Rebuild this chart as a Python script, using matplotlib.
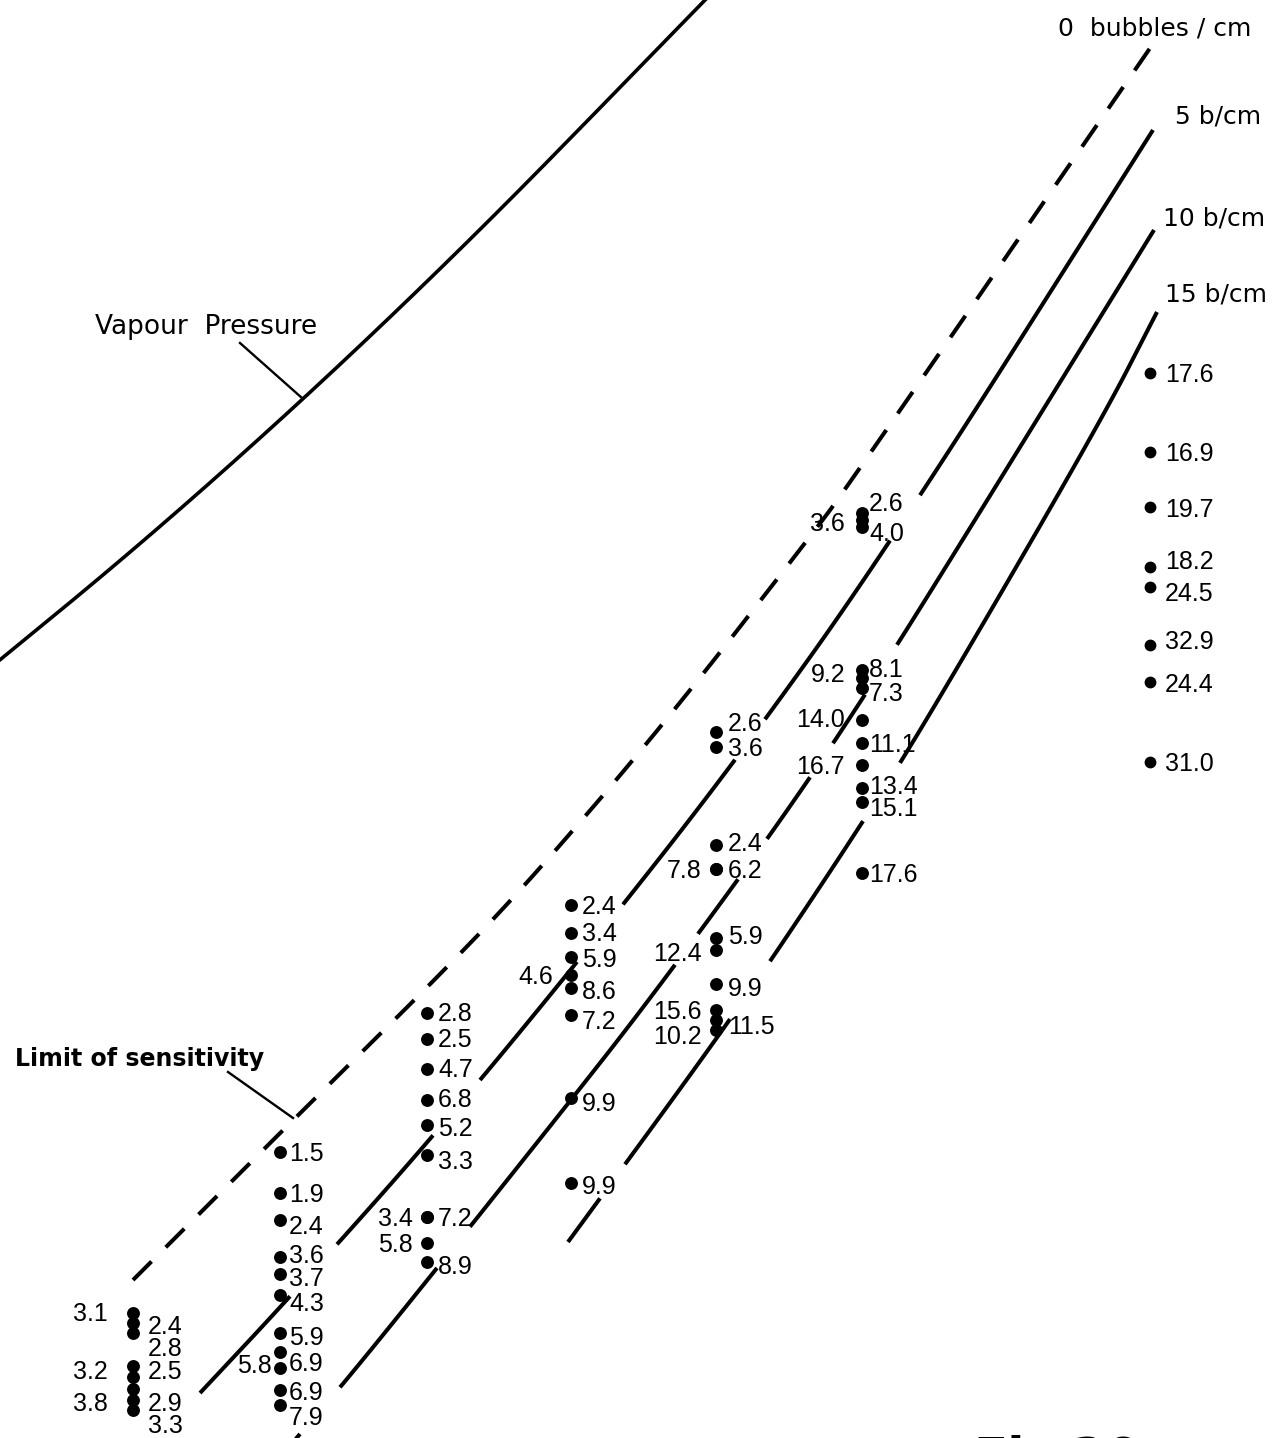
import numpy as np
import matplotlib
matplotlib.use("Agg")
import matplotlib.pyplot as plt

# ---------------------------------------------------------------
# Bubble-chamber sensitivity diagram: operating points (dots) with
# measured bubble densities, vapour-pressure curve and the curves of
# constant bubble density (0, 5, 10 and 15 bubbles/cm).
# Coordinates: x = temperature position, y = pressure position
# (drawing units, y grows downward).
# ---------------------------------------------------------------

W, H = 1280, 1438

# x position of each series of runs
col_x = [133, 280, 427, 571, 716, 862, 1150]

# --- run series: dot heights and the bubble density written beside them ---
run0_y = [1313, 1323, 1333, 1366, 1377, 1389, 1400, 1410]
run0_val = ["3.1", "2.4", "2.8", "3.2", "2.5", "3.8", "2.9", "3.3"]

run1_y = [1152, 1193, 1220, 1257, 1274, 1295, 1333, 1352, 1368, 1390, 1405]
run1_val = ["1.5", "1.9", "2.4", "3.6", "3.7", "4.3", "5.9", "6.9", "5.8", "6.9", "7.9"]

run2_y = [1013, 1039, 1069, 1100, 1125, 1155, 1217, 1217, 1243, 1262]
run2_val = ["2.8", "2.5", "4.7", "6.8", "5.2", "3.3", "7.2", "3.4", "5.8", "8.9"]

run3_y = [905, 933, 957, 975, 988, 1015, 1098, 1183]
run3_val = ["2.4", "3.4", "5.9", "4.6", "8.6", "7.2", "9.9", "9.9"]

run4_y = [732, 747, 845, 869, 869, 938, 950, 984, 1010, 1020, 1030]
run4_val = ["2.6", "3.6", "2.4", "7.8", "6.2", "5.9", "12.4", "9.9", "15.6", "11.5", "10.2"]

run5_y = [513, 520, 527, 670, 678, 688, 720, 743, 765, 788, 802, 873]
run5_val = ["2.6", "3.6", "4.0", "8.1", "9.2", "7.3", "14.0", "11.1", "16.7", "13.4", "15.1", "17.6"]

run6_y = [373, 452, 507, 567, 587, 645, 682, 762]
run6_val = ["17.6", "16.9", "19.7", "18.2", "24.5", "32.9", "24.4", "31.0"]

# --- curves (read at a few nodes) ---
vapour_x = [-10, 100, 200, 300, 400, 500, 600, 705, 715]
vapour_y = [668, 578, 492, 402, 308, 210, 108, 0, -10]

b0_x = [133, 295, 430, 528, 665, 810, 848, 1157]
b0_y = [1280, 1118, 985, 883, 723, 537, 486, 38]

b5_x = [200, 290, 433, 577, 733, 890, 1153]
b5_y = [1393, 1297, 1137, 963, 765, 545, 130]

b10_x = [287, 340, 430, 571, 640, 738, 810, 865, 930, 1154]
b10_y = [1449, 1388, 1277, 1100, 1012, 880, 778, 695, 593, 230]

b15_x = [568, 700, 770, 863, 930, 1100, 1157]
b15_y = [1242, 1062, 962, 822, 715, 423, 312]

# ---------------------------------------------------------------
# layout: where the solid curves are drawn (they break at the figures)
b5_vis = [(200, 290), (337, 433), (480, 577), (623, 735), (765, 890), (920, 1153)]
b10_vis = [(290, 300), (340, 437), (470, 675), (698, 738), (767, 810), (833, 865), (897, 1154)]
b15_vis = [(568, 600), (625, 730), (770, 863), (900, 1157)]

# label layout (side of the dot and label height)
run0_side = "LRRLRLRR"
run0_ly = [1312, 1325, 1347, 1370, 1370, 1402, 1402, 1424]
run1_side = "RRRRRRRRLRR"
run1_ly = [1152, 1193, 1225, 1254, 1277, 1302, 1336, 1362, 1364, 1391, 1416]
run2_side = "RRRRRRRLLR"
run2_ly = [1012, 1038, 1068, 1098, 1127, 1160, 1217, 1217, 1243, 1265]
run3_side = "RRRLRRRR"
run3_ly = [905, 932, 958, 975, 990, 1020, 1102, 1185]
run4_side = "RRRLRRLRLRL"
run4_ly = [722, 747, 842, 869, 869, 935, 952, 987, 1010, 1025, 1035]
run5_side = "RLRRLRLRLRRR"
run5_ly = [502, 522, 532, 668, 673, 692, 718, 743, 765, 785, 807, 873]
run6_side = "RRRRRRRR"
run6_ly = [373, 452, 508, 560, 592, 640, 683, 762]

right_gap = [15, 9, 11, 11, 12, 7, 15]
left_gap = [25, 8, 14, 18, 14, 17, 0]

runs = [
    (run0_y, run0_val, run0_side, run0_ly),
    (run1_y, run1_val, run1_side, run1_ly),
    (run2_y, run2_val, run2_side, run2_ly),
    (run3_y, run3_val, run3_side, run3_ly),
    (run4_y, run4_val, run4_side, run4_ly),
    (run5_y, run5_val, run5_side, run5_ly),
    (run6_y, run6_val, run6_side, run6_ly),
]

NUM_FONT = ["Liberation Sans", "DejaVu Sans"]
WORD_FONT = ["DejaVu Sans"]
NUM_SIZE = 18
num_shift = 0.36 * NUM_SIZE * 100 / 72  # baseline offset from visual centre


def smooth_curve(xs, ys, n=24):
    """Smooth a hand-read curve with quadratic Bezier pieces between node midpoints."""
    p = np.column_stack([xs, ys]).astype(float)
    mids = (p[:-1] + p[1:]) / 2
    out = [p[0], mids[0]]
    t = np.linspace(0, 1, n)[1:, None]
    for i in range(1, len(p) - 1):
        a, c, b = mids[i - 1], p[i], mids[i]
        out.extend((1 - t) ** 2 * a + 2 * (1 - t) * t * c + t ** 2 * b)
    out.append(p[-1])
    out = np.array(out)
    return out[:, 0], out[:, 1]


def draw_pieces(ax, xs, ys, pieces, **kw):
    sx, sy = smooth_curve(xs, ys)
    for x0, x1 in pieces:
        inner = sx[(sx > x0) & (sx < x1)]
        px = np.concatenate([[x0], inner, [x1]])
        ax.plot(px, np.interp(px, sx, sy), **kw)


fig = plt.figure(figsize=(W / 100, H / 100), dpi=100)
ax = fig.add_axes([0, 0, 1, 1])
ax.set_xlim(0, W)
ax.set_ylim(H, 0)
ax.axis("off")

LW = 2.9
line_kw = dict(color="black", lw=LW, zorder=2, solid_capstyle="butt")

vx, vy = smooth_curve(vapour_x, vapour_y)
ax.plot(vx, vy, color="black", lw=2.6, zorder=2)

zx, zy = smooth_curve(b0_x, b0_y)
ax.plot(zx, zy, color="black", lw=LW, zorder=2, linestyle=(0, (6.5, 5.0)),
        dash_capstyle="butt")

draw_pieces(ax, b5_x, b5_y, b5_vis, **line_kw)
draw_pieces(ax, b10_x, b10_y, b10_vis, **line_kw)
draw_pieces(ax, b15_x, b15_y, b15_vis, **line_kw)

# pointer lines
ax.plot([240, 302], [343, 398], color="black", lw=1.7, zorder=2)
ax.plot([228, 293], [1072, 1118], color="black", lw=1.7, zorder=2)

# dots and their bubble-density labels
for i, (ys, vals, sides, lys) in enumerate(runs):
    x = col_x[i]
    ms = 8.5 if i == 6 else 9.3
    ax.plot([x] * len(ys), ys, "o", color="black", ms=ms, mew=0, zorder=4)
    for v, s, ly in zip(vals, sides, lys):
        if s == "R":
            tx, ha = x + right_gap[i], "left"
        else:
            tx, ha = x - left_gap[i], "right"
        ax.text(tx, ly + num_shift, v, ha=ha, va="baseline", fontsize=NUM_SIZE,
                family=NUM_FONT, color="black", zorder=5)

# curve names
ax.text(1058, 36, "0  bubbles / cm", fontsize=18, family=WORD_FONT, va="baseline", ha="left")
ax.text(1175, 124, "5 b/cm", fontsize=18, family=WORD_FONT, va="baseline", ha="left")
ax.text(1163, 226, "10 b/cm", fontsize=18, family=WORD_FONT, va="baseline", ha="left")
ax.text(1165, 302, "15 b/cm", fontsize=18, family=WORD_FONT, va="baseline", ha="left")
ax.text(95, 334, "Vapour  Pressure", fontsize=19, family=WORD_FONT, va="baseline", ha="left")
ax.text(15, 1066, "Limit of sensitivity", fontsize=17, family=WORD_FONT,
        fontweight="bold", va="baseline", ha="left")

# figure caption, cut by the lower edge
ax.text(973, 1435, "Fig.", fontsize=36, family=WORD_FONT, fontweight="bold",
        va="top", ha="left", clip_on=False)
ax.text(1071, 1435, "20", fontsize=36, family=WORD_FONT, fontweight="bold",
        va="top", ha="left", clip_on=False)

fig.savefig("out.png", dpi=100, facecolor="white")
